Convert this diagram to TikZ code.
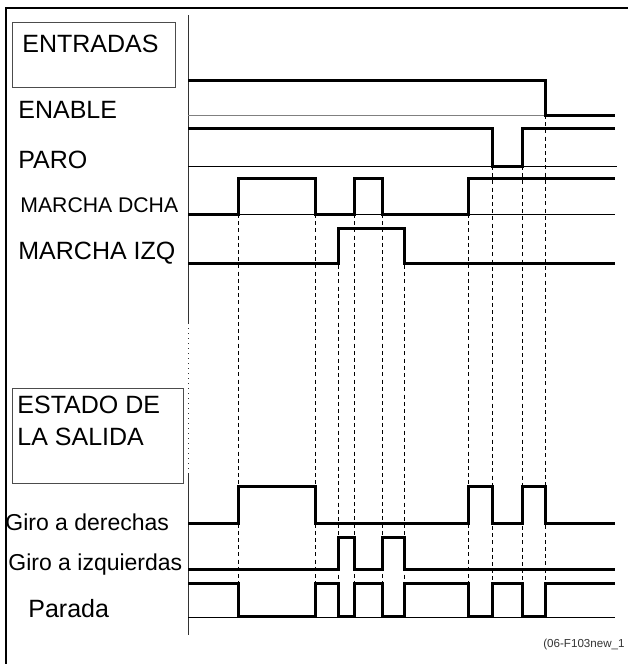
\documentclass[tikz,border=0pt]{standalone}
\usepackage{fontspec}
\setmainfont{Liberation Sans}
\usepackage{tikz}
\usetikzlibrary{positioning}

\begin{document}
\begin{tikzpicture}[
      x = 0.5pt, y = -0.5pt,
      frame/.style = {line width = 1.1pt},
      box/.style   = {draw = black!70, line width = .5pt},
      axis/.style  = {black!80, line width = .5pt},
      base/.style  = {black, line width = .4pt},
      sig/.style   = {line width = 1.5pt, line join = miter},
      tick/.style  = {black, line width = .4pt, dash pattern = on 2pt off 1.6pt},
      lbl/.style   = {anchor = base west, inner sep = 0pt, font = \fontsize{12.5}{14}\selectfont},
      lbls/.style  = {lbl, font = \fontsize{10.6}{12}\selectfont},
      lblg/.style  = {lbl, font = \fontsize{11.5}{13}\selectfont},
      ref/.style   = {anchor = base east, inner sep = 0pt, font = \fontsize{5.8}{7}\selectfont, text = black!80}
    ]
  \useasboundingbox (0,0) rectangle (627,664);

  % ---------- frame and time axis ------------------------------------
  \draw[frame] (6,700) -- (6,8) -- (660,8);
  \draw[axis] (188,15) -- (188,323);
  \draw[axis, dotted] (188,323) -- (188,471);
  \draw[axis] (188,473) -- (188,635);

  % ---------- entradas -------------------------------------------------
  \draw[box] (12,22) rectangle (175,87);
  \node[lbl] (entradas) at (22,53) {ENTRADAS};

  \node[lbl]  (enable) at (18,118) {ENABLE};
  \node[lbl]  (paro)   at (18,168) {PARO};
  \node[lbls] (mdcha)  at (20,212) {MARCHA DCHA};
  \node[lbl]  (mizq)   at (18,259) {MARCHA IZQ};

  \draw[base, black!50] (188,115) -- (545,115);
  \draw[base] (188,166) -- (617,166);
  \draw[base] (188,214) -- (615,214);

  \draw[sig] (188,80) -- (545,80) -- (545,115) -- (615,115);
  \draw[sig] (188,128) -- (492,128) -- (492,166) -- (522,166) -- (522,128) -- (615,128);
  \draw[sig] (188,214) -- (238,214) -- (238,178) -- (315,178) -- (315,214)
             -- (354,214) -- (354,178) -- (382,178) -- (382,214)
             -- (468,214) -- (468,178) -- (615,178);
  \draw[sig] (188,263) -- (338,263) -- (338,228) -- (404,228) -- (404,263) -- (615,263);

  % ---------- time marks -----------------------------------------------
  \foreach \x/\y in {238/214, 315/214, 338/265, 354/214, 382/214,
                     404/265, 468/214, 492/166, 522/166, 545/115}
    \draw[tick] (\x,\y) -- (\x,582);

  % ---------- estado de la salida --------------------------------------
  \draw[box] (12,388) rectangle (183,483);
  \node[lbl] (estado) at (17,413) {ESTADO DE};
  \node[lbl] (salida) at (17,445) {LA SALIDA};

  \node[lblg] (gdcha)  at (5,530)  {Giro a derechas};
  \node[lblg] (gizq)   at (8,570)  {Giro a izquierdas};
  \node[lbl]  (parada) at (28,617) {Parada};

  \draw[base] (188,617) -- (615,617);

  \draw[sig] (188,523) -- (238,523) -- (238,486) -- (315,486) -- (315,523)
             -- (468,523) -- (468,486) -- (492,486) -- (492,523)
             -- (522,523) -- (522,486) -- (545,486) -- (545,523) -- (615,523);
  \draw[sig] (188,569) -- (338,569) -- (338,537) -- (354,537) -- (354,569)
             -- (382,569) -- (382,537) -- (404,537) -- (404,569) -- (615,569);
  \draw[sig] (188,583) -- (238,583) -- (238,616) -- (315,616) -- (315,583)
             -- (338,583) -- (338,616) -- (354,616) -- (354,583)
             -- (382,583) -- (382,616) -- (404,616) -- (404,583)
             -- (468,583) -- (468,616) -- (492,616) -- (492,583)
             -- (522,583) -- (522,616) -- (545,616) -- (545,583) -- (615,583);

  \node[ref] (figref) at (625,647) {(06-F103new\_1};

\end{tikzpicture}
\end{document}
